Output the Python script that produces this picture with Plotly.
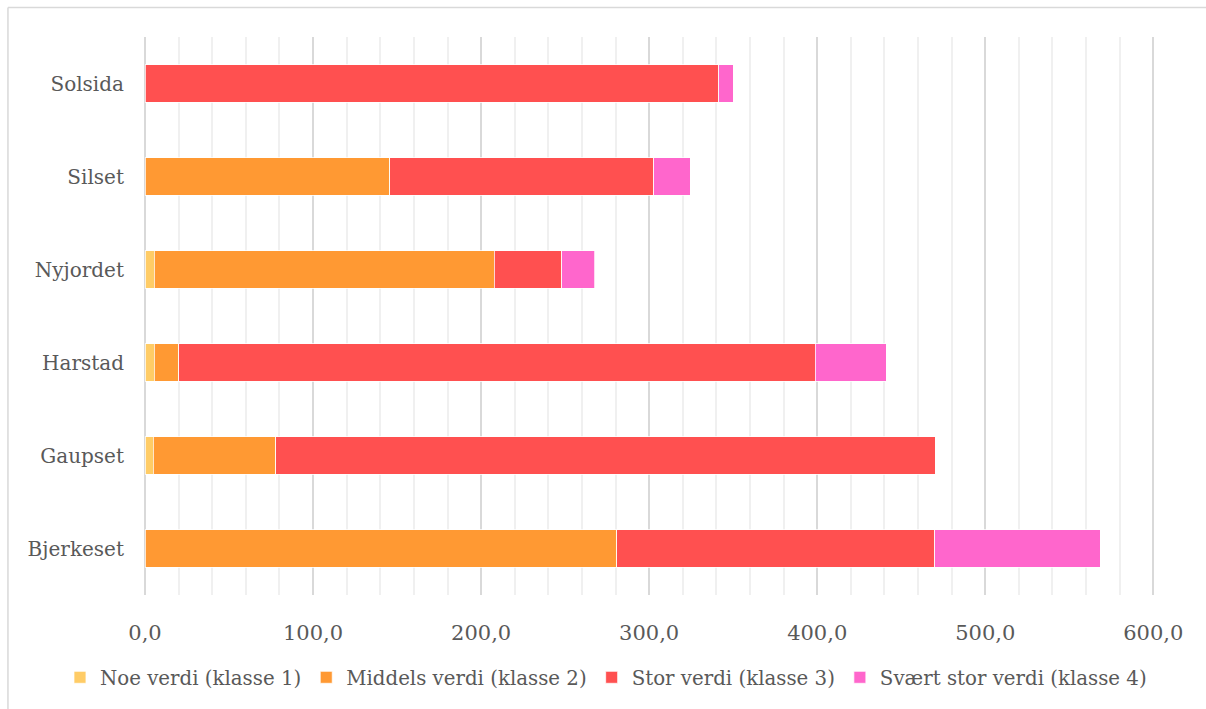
import plotly.graph_objects as go

categories = ["Bjerkeset", "Gaupset", "Harstad", "Nyjordet", "Silset", "Solsida"]
noe = [0, 4.8, 5.4, 5.4, 0, 0]
middels = [280.7, 73.0, 14.6, 202.3, 145.6, 0]
stor = [189.1, 392.4, 378.8, 40.3, 157.0, 341.3]
svaert = [98.7, 0, 42.2, 19.7, 21.8, 8.7]

series_names = ["Noe verdi (klasse 1)", "Middels verdi (klasse 2)",
                "Stor verdi (klasse 3)", "Svært stor verdi (klasse 4)"]
series_values = [noe, middels, stor, svaert]
colors = ["#FFCC66", "#FF9933", "#FF5050", "#FF66CC"]

x_ticks = [0, 100, 200, 300, 400, 500, 600]

FONT = "Georgia, 'DejaVu Serif', serif"
TXT = "#595959"

fig = go.Figure()
for name, vals, col in zip(series_names, series_values, colors):
    fig.add_trace(go.Bar(
        y=categories, x=vals, name=name, orientation="h",
        marker=dict(color=col, line=dict(color="white", width=0.75)),
        width=0.4,
    ))

W, H = 1206, 709
L, T, B = 145, 37, 113.5
R = 53 - 1.68
pw, ph = W - L - R, H - T - B

def px_x(p):
    return (p - L) / pw

def px_y(p):
    return (H - B - p) / ph

fig.update_layout(
    barmode="stack",
    width=W, height=H,
    margin=dict(l=L, r=R, t=T, b=B),
    paper_bgcolor="white", plot_bgcolor="white",
    font=dict(family=FONT, size=20, color=TXT),
    separators=", ",
    legend=dict(orientation="h", x=px_x(60), xanchor="left",
                y=px_y(678), yanchor="middle",
                font=dict(family=FONT, size=19.8, color=TXT),
                traceorder="normal", itemwidth=30, tracegroupgap=0),
    xaxis=dict(range=[0, 601], tickvals=x_ticks, tickformat=".1f",
               showgrid=True, gridcolor="#D9D9D9", gridwidth=1.5,
               minor=dict(dtick=20, showgrid=True, gridcolor="#F0F0F0", gridwidth=1.5),
               zeroline=True, zerolinecolor="#D9D9D9", zerolinewidth=1.5,
               showline=False, ticks="", ticklabelstandoff=23,
               tickfont=dict(family=FONT, size=21, color=TXT)),
    yaxis=dict(categoryorder="array", categoryarray=categories,
               range=[-0.5, 5.5], showgrid=False, showline=False, ticks="",
               ticklabelstandoff=20,
               tickfont=dict(family=FONT, size=20, color=TXT)),
    shapes=[
        dict(type="line", xref="paper", yref="paper",
             x0=px_x(8), x1=px_x(W + 5), y0=px_y(7.5), y1=px_y(7.5),
             line=dict(color="#D9D9D9", width=1.5)),
        dict(type="line", xref="paper", yref="paper",
             x0=px_x(8), x1=px_x(8), y0=px_y(7.5), y1=px_y(H + 5),
             line=dict(color="#D9D9D9", width=1.5)),
    ],
)

fig.write_html("out.html")
